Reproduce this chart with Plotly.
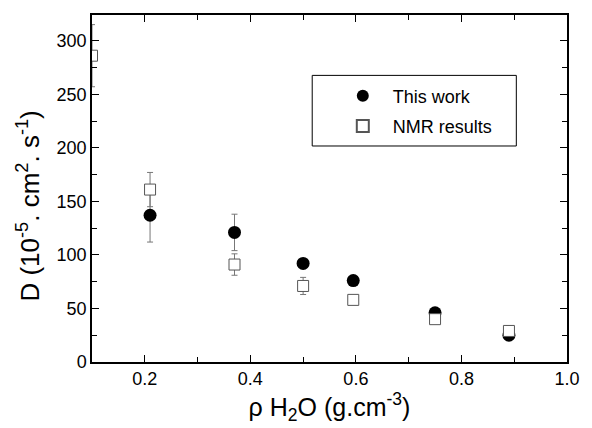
import plotly.graph_objects as go

# Data
x_this = [0.21, 0.37, 0.50, 0.595, 0.75, 0.89]
y_this = [137, 121, 92, 76, 46, 25]
e_this = [25, 17, 4, 3, 3, 3]

x_nmr = [0.10, 0.21, 0.37, 0.50, 0.595, 0.75, 0.89]
y_nmr = [286, 161, 91, 71, 58, 40, 29]
e_nmr = [29, 16, 10, 8, 4, 4, 5]

FONT = "Arial, Liberation Sans, sans-serif"
NB = "\u00a0\u00a0"

fig = go.Figure()
fig.add_trace(go.Scatter(
    x=x_this, y=y_this, mode="markers", name=NB + "This work", legendgroup="a",
    marker=dict(symbol="circle", size=13, color="black"),
    error_y=dict(type="data", array=e_this, color="#777777", thickness=1, width=3),
))
fig.add_trace(go.Scatter(
    x=x_nmr, y=y_nmr, mode="markers", name=NB + "NMR results", legendgroup="b",
    marker=dict(symbol="square", size=11, color="white", line=dict(color="#555555", width=1)),
    error_y=dict(type="data", array=e_nmr, color="#777777", thickness=1, width=3),
))

axis_common = dict(
    showline=True, linecolor="black", linewidth=1.5, mirror="ticks",
    ticks="inside", ticklen=7, tickwidth=1, tickcolor="black",
    showgrid=False, zeroline=False,
    tickfont=dict(family=FONT, size=18, color="black"),
)

fig.update_xaxes(
    range=[0.1, 1.0], tickvals=[0.2, 0.4, 0.6, 0.8, 1.0], ticktext=["0.2", "0.4", "0.6", "0.8", "1.0"],
    minor=dict(tickvals=[0.3, 0.5, 0.7, 0.9], ticks="inside", ticklen=5, tickcolor="black"),
    title=dict(text="ρ H<sub>2</sub>O (g.cm<sup>-3</sup>)", font=dict(family=FONT, size=25, color="black"), standoff=6),
    **axis_common,
)
fig.update_yaxes(
    range=[0, 324], tickvals=[0, 50, 100, 150, 200, 250, 300],
    minor=dict(tickvals=[25, 75, 125, 175, 225, 275], ticks="inside", ticklen=5, tickcolor="black"),
    **axis_common,
)

fig.add_annotation(
    text="D (10<sup>-5</sup>. cm<sup>2</sup>. s<sup>-1</sup>)",
    xref="paper", yref="paper", x=-0.134, y=0.449,
    xanchor="center", yanchor="middle", textangle=-90, showarrow=False,
    font=dict(family=FONT, size=26, color="black"),
)

fig.add_shape(type="rect", xref="paper", yref="paper",
              x0=0.4636, x1=0.8933, y0=0.6225, y1=0.826,
              line=dict(color="black", width=1), fillcolor="rgba(0,0,0,0)")

fig.update_layout(
    width=592, height=428,
    margin=dict(l=92, r=15, t=15, b=66),
    paper_bgcolor="white", plot_bgcolor="white",
    legend=dict(
        x=0.528, y=0.82, xanchor="left", yanchor="top",
        borderwidth=0, bgcolor="rgba(0,0,0,0)",
        font=dict(family=FONT, size=18, color="black"),
        itemsizing="constant",
        traceorder="grouped",
        tracegroupgap=4,
    ),
)

fig.write_html("out.html")
